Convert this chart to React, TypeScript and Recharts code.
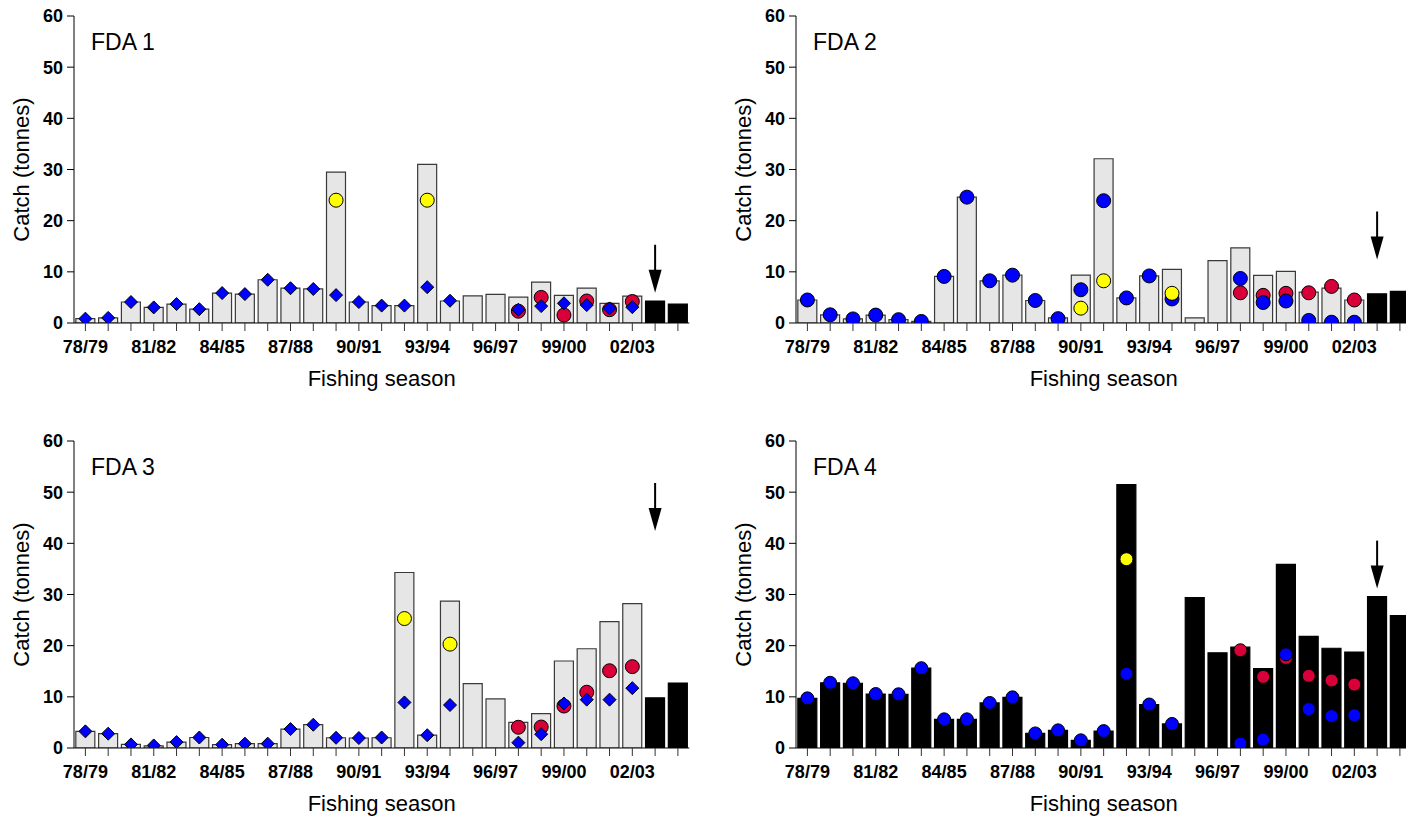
import React from 'react';
import { ComposedChart, Bar, Scatter, XAxis, YAxis, Cell } from 'recharts';

const FONT = '"Liberation Sans", Arial, Helvetica, sans-serif';

const seasons = ['78/79','79/80','80/81','81/82','82/83','83/84','84/85','85/86','86/87','87/88','88/89','89/90','90/91','91/92','92/93','93/94','94/95','95/96','96/97','97/98','98/99','99/00','00/01','01/02','02/03','03/04','04/05'];
const tickLabels = ['78/79','81/82','84/85','87/88','90/91','93/94','96/97','99/00','02/03'];
const yTicks = [0, 10, 20, 30, 40, 50, 60];
const blackSeasons = ['03/04', '04/05'];
const arrowSeason = '03/04';

// FDA 1
const fda1Catch = [0.85,1.0,4.1,3.05,3.7,2.7,5.85,5.65,8.45,6.8,6.65,29.5,4.1,3.4,3.4,31.0,4.3,5.3,5.6,5.05,8.0,5.4,6.8,3.85,5.25,4.3,3.7];
const fda1Diamond = [0.85,1.0,4.1,3.05,3.7,2.7,5.85,5.65,8.45,6.8,6.65,5.45,4.1,3.4,3.4,7.0,4.35,null,null,2.6,3.3,3.85,3.5,2.85,3.1,null,null];
const fda1Red = [null,null,null,null,null,null,null,null,null,null,null,null,null,null,null,null,null,null,null,2.3,5.0,1.55,4.3,2.6,4.2,null,null];
const fda1Yellow = [null,null,null,null,null,null,null,null,null,null,null,24.0,null,null,null,24.0,null,null,null,null,null,null,null,null,null,null,null];
const fda1Arrow = 5.9;

// FDA 2
const fda2Catch = [4.5,1.6,0.8,1.55,0.65,0.3,9.1,24.6,8.25,9.35,4.4,1.0,9.35,32.1,4.9,9.2,10.5,1.0,12.2,14.7,9.3,10.1,6.05,6.8,4.5,5.7,6.2];
const fda2Blue = [4.5,1.6,0.8,1.55,0.65,0.3,9.1,24.6,8.25,9.35,4.4,0.85,6.5,23.9,4.9,9.2,4.7,null,null,8.7,4.0,4.3,0.5,0.15,0.15,null,null];
const fda2Red = [null,null,null,null,null,null,null,null,null,null,null,null,null,null,null,null,null,null,null,5.9,5.4,5.8,5.9,7.15,4.5,null,null];
const fda2Yellow = [null,null,null,null,null,null,null,null,null,null,null,null,2.9,8.25,null,null,5.8,null,null,null,null,null,null,null,null,null,null];
const fda2Arrow = 12.4;

// FDA 3
const fda3Catch = [3.25,2.8,0.7,0.4,1.15,2.05,0.65,0.85,0.85,3.7,4.55,2.0,1.95,2.0,34.3,2.5,28.7,12.6,9.6,5.0,6.7,17.0,19.4,24.7,28.2,9.8,12.7];
const fda3Diamond = [3.25,2.8,0.7,0.5,1.15,2.05,0.65,0.85,0.85,3.7,4.55,2.0,1.95,2.05,8.9,2.5,8.4,null,null,1.05,2.7,8.7,9.45,9.45,11.7,null,null];
const fda3Red = [null,null,null,null,null,null,null,null,null,null,null,null,null,null,null,null,null,null,null,4.05,4.1,8.2,10.9,15.1,15.9,null,null];
const fda3Yellow = [null,null,null,null,null,null,null,null,null,null,null,null,null,null,25.3,null,20.3,null,null,null,null,null,null,null,null,null,null];
const fda3Arrow = 42.4;

// FDA 4
const fda4Catch = [9.7,12.75,12.65,10.55,10.5,15.6,5.6,5.6,8.8,9.9,2.85,3.45,1.5,3.3,51.5,8.5,4.7,29.4,18.6,19.7,15.5,35.9,21.8,19.5,18.75,29.6,25.9];
const fda4Blue = [9.7,12.75,12.65,10.55,10.5,15.6,5.6,5.6,8.8,9.9,2.85,3.45,1.5,3.3,14.5,8.5,4.7,null,null,0.85,1.65,18.3,7.6,6.25,6.4,null,null];
const fda4Red = [null,null,null,null,null,null,null,null,null,null,null,null,null,null,null,null,null,null,null,19.1,13.9,17.6,14.1,13.2,12.4,null,null];
const fda4Yellow = [null,null,null,null,null,null,null,null,null,null,null,null,null,null,36.9,null,null,null,null,null,null,null,null,null,null,null,null];
const fda4Arrow = 31.15;

const RED = '#d9003a';
const BLUE = '#0000ff';
const YELLOW = '#ffff00';
const GREY = '#e6e6e6';

type Panel = {
  name: string;
  catchT: number[];
  blue: (number | null)[];
  red: (number | null)[];
  yellow: (number | null)[];
  arrow: number;
  blueShape: 'diamond' | 'circle';
  allBlack: boolean;
  r: number;
  left: number;
  top: number;
};

const panels: Panel[] = [
  { name: 'FDA 1', catchT: fda1Catch, blue: fda1Diamond, red: fda1Red, yellow: fda1Yellow, arrow: fda1Arrow, blueShape: 'diamond', allBlack: false, r: 7, left: 0, top: 0 },
  { name: 'FDA 2', catchT: fda2Catch, blue: fda2Blue, red: fda2Red, yellow: fda2Yellow, arrow: fda2Arrow, blueShape: 'circle', allBlack: false, r: 7, left: 721.67, top: 0 },
  { name: 'FDA 3', catchT: fda3Catch, blue: fda3Diamond, red: fda3Red, yellow: fda3Yellow, arrow: fda3Arrow, blueShape: 'diamond', allBlack: false, r: 7, left: 0, top: 424.5 },
  { name: 'FDA 4', catchT: fda4Catch, blue: fda4Blue, red: fda4Red, yellow: fda4Yellow, arrow: fda4Arrow, blueShape: 'circle', allBlack: true, r: 6.5, left: 721.67, top: 424.5 },
];

const ok = (props: any, key: string) =>
  props && props.payload && props.payload[key] != null && Number.isFinite(props.cx) && Number.isFinite(props.cy);

const circleShape = (key: string, fill: string, r: number) => (props: any) => {
  if (!ok(props, key)) return <g />;
  return <circle cx={props.cx} cy={props.cy} r={r} fill={fill} stroke="#000" strokeWidth={1} />;
};

const diamondShape = (key: string, fill: string, h: number) => (props: any) => {
  if (!ok(props, key)) return <g />;
  const { cx, cy } = props;
  return (
    <polygon
      points={`${cx},${cy - h} ${cx + h},${cy} ${cx},${cy + h} ${cx - h},${cy}`}
      fill={fill}
      stroke="#000"
      strokeWidth={1}
    />
  );
};

const arrowShape = (props: any) => {
  if (!ok(props, 'arrow')) return <g />;
  const { cx, cy } = props;
  return (
    <g>
      <line x1={cx} y1={cy - 48} x2={cx} y2={cy - 20} stroke="#000" strokeWidth={2} />
      <polygon points={`${cx - 6.5},${cy - 23} ${cx + 6.5},${cy - 23} ${cx},${cy}`} fill="#000" />
    </g>
  );
};

const xLabelContent = (props: any) => {
  const vb = props.viewBox || {};
  return (
    <text x={vb.x + vb.width / 2} y={vb.y + 63} textAnchor="middle" fontSize={22} fontFamily={FONT} fill="#000">
      Fishing season
    </text>
  );
};

const yLabelContent = (props: any) => {
  const vb = props.viewBox || {};
  const x = vb.x + 28.5;
  const y = vb.y + vb.height / 2;
  return (
    <text x={x} y={y} transform={`rotate(-90, ${x}, ${y})`} textAnchor="middle" fontSize={22} fontFamily={FONT} fill="#000">
      Catch (tonnes)
    </text>
  );
};

const tickStyle = { fontSize: 18, fontWeight: 'bold', fill: '#000', fontFamily: FONT };

function PanelChart({ p }: { p: Panel }) {
  const rows = seasons.map((s, i) => ({
    season: s,
    catchT: p.catchT[i],
    blue: p.blue[i],
    red: p.red[i],
    yellow: p.yellow[i],
    arrow: s === arrowSeason ? p.arrow : null,
  }));
  return (
    <div style={{ position: 'absolute', left: p.left, top: p.top, width: 700, height: 400 }}>
      <ComposedChart
        width={700}
        height={400}
        data={rows}
        margin={{ top: 16, right: 10.7, bottom: 0, left: 0 }}
        barCategoryGap="8%"
      >
        <XAxis
          dataKey="season"
          interval={0}
          height={77}
          tickSize={8}
          tickMargin={9}
          tick={tickStyle}
          tickFormatter={(v: string) => (tickLabels.includes(v) ? v : '')}
          axisLine={{ stroke: '#000', strokeWidth: 1 }}
          tickLine={{ stroke: '#333', strokeWidth: 1 }}
          label={{ value: 'Fishing season', content: xLabelContent }}
        />
        <XAxis
          xAxisId="top"
          dataKey="season"
          orientation="top"
          height={0}
          tick={false}
          tickLine={false}
          axisLine={{ stroke: '#000', strokeWidth: 1 }}
        />
        <YAxis
          domain={[0, 60]}
          ticks={yTicks}
          interval={0}
          width={74}
          tickSize={7}
          tickMargin={4}
          tick={tickStyle}
          axisLine={{ stroke: '#000', strokeWidth: 1 }}
          tickLine={{ stroke: '#000', strokeWidth: 1 }}
          allowDataOverflow
          label={{ value: 'Catch (tonnes)', content: yLabelContent }}
        />
        <YAxis
          yAxisId="right"
          orientation="right"
          domain={[0, 60]}
          width={0}
          tick={false}
          tickLine={false}
          axisLine={{ stroke: '#000', strokeWidth: 1 }}
        />
        <Bar dataKey="catchT" isAnimationActive={false}>
          {rows.map((r, i) => {
            const black = p.allBlack || blackSeasons.includes(r.season);
            return (
              <Cell
                key={i}
                fill={black ? '#000' : GREY}
                stroke={black ? '#000' : '#3a3a3a'}
                strokeWidth={1.2}
              />
            );
          })}
        </Bar>
        <Scatter dataKey="red" isAnimationActive={false} shape={circleShape('red', RED, p.r)} />
        <Scatter
          dataKey="blue"
          isAnimationActive={false}
          shape={p.blueShape === 'diamond' ? diamondShape('blue', BLUE, 6.5) : circleShape('blue', BLUE, p.r)}
        />
        <Scatter dataKey="yellow" isAnimationActive={false} shape={circleShape('yellow', YELLOW, p.r)} />
        <Scatter dataKey="arrow" isAnimationActive={false} shape={arrowShape} />
      </ComposedChart>
      <svg width={700} height={400} style={{ position: 'absolute', left: 0, top: 0, pointerEvents: 'none' }}>
        <text x={91} y={49.5} fontSize={23} fontFamily={FONT} fill="#000">
          {p.name}
        </text>
      </svg>
    </div>
  );
}

export default function App() {
  return (
    <div
      style={{
        position: 'absolute',
        left: 0,
        top: 0,
        width: 1406,
        height: 818,
        overflow: 'hidden',
        background: '#fff',
        fontFamily: FONT,
      }}
    >
      {panels.map((p) => (
        <PanelChart key={p.name} p={p} />
      ))}
    </div>
  );
}
